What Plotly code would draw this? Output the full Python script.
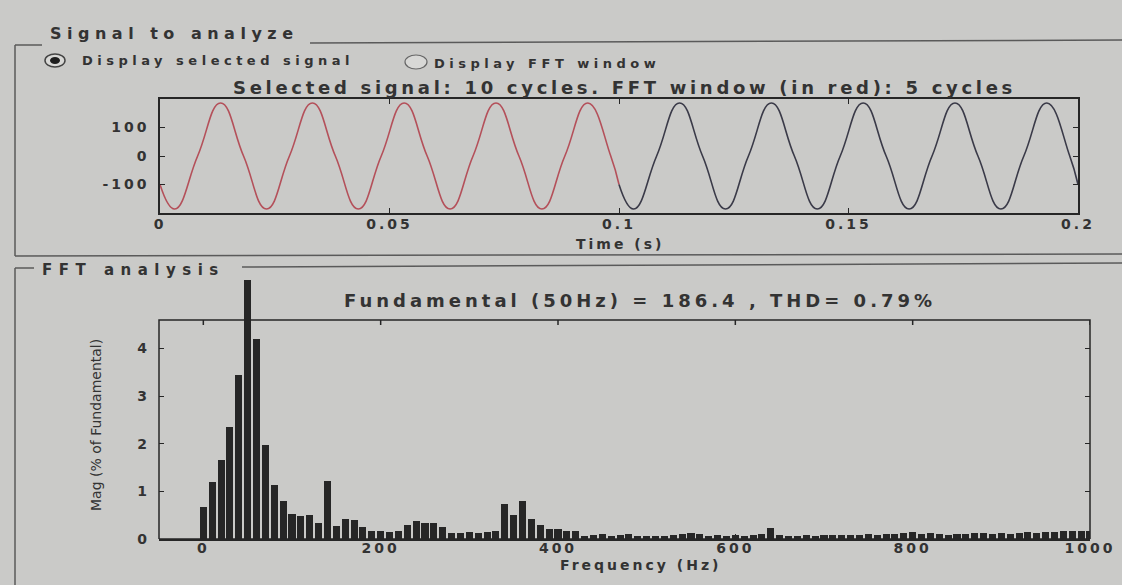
import plotly.graph_objects as go

W, H = 1122, 585

# ---- data ----
sig_red_t = [0, 0.0032, 0.0082, 0.0132, 0.0182, 0.0232, 0.0282, 0.0332, 0.0382, 0.0432,
             0.0482, 0.0532, 0.0582, 0.0632, 0.0682, 0.0732, 0.0782, 0.0832, 0.0882, 0.0932,
             0.0982, 0.1]
sig_red_v = [-100, -186, 0, 186, 0, -186, 0, 186, 0, -186,
             0, 186, 0, -186, 0, 186, 0, -186, 0, 186,
             0, -100]
sig_blk_t = [0.1, 0.1032, 0.1082, 0.1132, 0.1182, 0.1232, 0.1282, 0.1332, 0.1382, 0.1432,
             0.1482, 0.1532, 0.1582, 0.1632, 0.1682, 0.1732, 0.1782, 0.1832, 0.1882, 0.1932,
             0.1982, 0.2]
sig_blk_v = [-100, -186, 0, 186, 0, -186, 0, 186, 0, -186,
             0, 186, 0, -186, 0, 186, 0, -186, 0, 186,
             0, -100]

freqs = list(range(0, 1001, 10))
mags = [0.66, 1.18, 1.65, 2.34, 3.44, 5.44, 4.20, 1.97, 1.12, 0.78,
        0.51, 0.47, 0.49, 0.33, 1.22, 0.26, 0.42, 0.40, 0.24, 0.17,
        0.16, 0.13, 0.15, 0.28, 0.36, 0.33, 0.32, 0.25, 0.12, 0.12,
        0.13, 0.12, 0.14, 0.15, 0.72, 0.50, 0.78, 0.42, 0.28, 0.20,
        0.20, 0.17, 0.15, 0.06, 0.08, 0.10, 0.06, 0.08, 0.10, 0.05,
        0.06, 0.05, 0.06, 0.08, 0.10, 0.12, 0.10, 0.06, 0.08, 0.05,
        0.07, 0.05, 0.08, 0.10, 0.22, 0.08, 0.06, 0.06, 0.07, 0.06,
        0.07, 0.08, 0.07, 0.08, 0.07, 0.09, 0.08, 0.10, 0.09, 0.11,
        0.13, 0.10, 0.12, 0.10, 0.08, 0.09, 0.10, 0.11, 0.12, 0.10,
        0.11, 0.10, 0.12, 0.14, 0.12, 0.13, 0.14, 0.15, 0.15, 0.16,
        0.17]

t_ticks = [0, 0.05, 0.1, 0.15, 0.2]
t_ticktext = ["0", "0.05", "0.1", "0.15", "0.2"]
v_ticks = [-100, 0, 100]
v_ticktext = ["-100", "0", "100"]
f_ticks = [0, 200, 400, 600, 800, 1000]
m_ticks = [0, 1, 2, 3, 4]
m_top = 4.6          # upper limit of the FFT axes box
m_overflow = 5.6     # room for the bar that pokes above the box

title_sig = "Selected signal: 10 cycles. FFT window (in red): 5 cycles"
title_fft = "Fundamental (50Hz) = 186.4 , THD= 0.79%"

# ---- styling ----
FONT = "DejaVu Sans"
TXT = "#333333"
AX = "#262626"
BG = "#cacac8"


def fx(x):
    return x / W


def fy(y):
    return 1 - y / H


def sp(s, ls):
    return '<span style="letter-spacing:%spx">%s</span>' % (ls, s)


fig = go.Figure()
fig.add_trace(go.Scatter(x=sig_red_t, y=sig_red_v, mode="lines",
                         line=dict(color="#b4505a", width=1.6, shape="spline", smoothing=1.3),
                         xaxis="x", yaxis="y", showlegend=False, hoverinfo="skip"))
fig.add_trace(go.Scatter(x=sig_blk_t, y=sig_blk_v, mode="lines",
                         line=dict(color="#3a3a48", width=1.6, shape="spline", smoothing=1.3),
                         xaxis="x", yaxis="y", showlegend=False, hoverinfo="skip"))
fig.add_trace(go.Bar(x=freqs, y=mags, width=8, marker=dict(color="#262626", line=dict(width=0)),
                     xaxis="x2", yaxis="y2", showlegend=False))

tickfont = dict(family=FONT, size=14, color=TXT, weight="bold")
axis_common = dict(linecolor=AX, linewidth=1.5, ticks="inside", ticklen=5, tickcolor=AX,
                   showgrid=False, zeroline=False, tickfont=tickfont, automargin=False)

px_per_unit = (539 - 320) / m_top
fig.update_layout(
    template="none",
    width=W, height=H, autosize=False,
    margin=dict(l=0, r=0, t=0, b=0, pad=0, autoexpand=False),
    paper_bgcolor=BG, plot_bgcolor=BG,
    bargap=0,
    xaxis=dict(domain=[fx(160), fx(1078)], range=[0, 0.2], tickvals=t_ticks,
               ticktext=[sp(s, 3) for s in t_ticktext], anchor="y", ticklabelstandoff=-3,
               showline=True, mirror="allticks", **axis_common),
    yaxis=dict(domain=[fy(213), fy(99)], range=[-200, 200], tickvals=v_ticks,
               ticktext=[sp(s, 3) for s in v_ticktext], anchor="x", ticklabelstandoff=6,
               showline=True, mirror="allticks", **axis_common),
    xaxis2=dict(domain=[fx(159), fx(1090)], range=[-50, 1000], tickvals=f_ticks,
                ticktext=[sp(str(v), 3) for v in f_ticks], anchor="y2", ticklabelstandoff=-5,
                showline=True, mirror=False, **axis_common),
    yaxis2=dict(domain=[fy(539), fy(539 - m_overflow * px_per_unit)], range=[0, m_overflow],
                tickvals=m_ticks, ticktext=[sp(str(v), 3) for v in m_ticks], anchor="x2",
                ticklabelstandoff=8, showline=False, mirror="ticks", **axis_common),
)

ann = []


def text(x, y, s, size, anchor="center", angle=0, ls=0, weight="bold"):
    ann.append(dict(x=fx(x), y=fy(y), xref="paper", yref="paper",
                    text=sp(s, ls) if ls else s, showarrow=False,
                    xanchor=anchor, yanchor="middle", textangle=angle,
                    font=dict(family=FONT, size=size, color=TXT, weight=weight)))


text(48, 33, "Signal to analyze", 16, "left", ls=5.5)
text(80, 61, "Display selected signal", 13, "left", ls=4.5)
text(432, 63, "Display FFT window", 13, "left", ls=4.5)
text(624, 87, title_sig, 18, ls=3.7)
text(620, 244, "Time (s)", 14, ls=3)
text(40, 270, "FFT analysis", 15, "left", ls=6.5)
text(640, 300, title_fft, 18, ls=4)
text(640, 565, "Frequency (Hz)", 14, ls=3)
text(96, 425, "Mag (% of Fundamental)", 14, "center", -90, weight="normal")
fig.update_layout(annotations=ann)

LC = "#5a5a5a"
shapes = []


def line(x0, y0, x1, y1, w=1.5, c=LC):
    shapes.append(dict(type="line", xref="paper", yref="paper", x0=fx(x0), y0=fy(y0),
                       x1=fx(x1), y1=fy(y1), line=dict(color=c, width=w)))


# panel 1
line(15, 45, 42, 45)
line(310, 43, 1122, 40)
line(15, 45, 15, 256)
line(15, 256, 1122, 254)
# panel 2
line(15, 268, 34, 268)
line(242, 267, 1122, 263)
line(15, 268, 15, 585)

# FFT axes box (bars may poke above it)
shapes.append(dict(type="rect", xref="x2 domain", yref="y2", x0=0, x1=1, y0=0, y1=m_top,
                   line=dict(color=AX, width=1.5), layer="above"))
for f in f_ticks:
    shapes.append(dict(type="line", xref="x2", yref="y2", x0=f, x1=f, y0=m_top,
                       y1=m_top - 5 / px_per_unit, line=dict(color=AX, width=1.5)))

# radio buttons
shapes.append(dict(type="circle", xref="paper", yref="paper", x0=fx(45), x1=fx(65),
                   y0=fy(54), y1=fy(67), line=dict(color="#444", width=1.5), fillcolor="#d8d8d6"))
shapes.append(dict(type="circle", xref="paper", yref="paper", x0=fx(50), x1=fx(60),
                   y0=fy(57), y1=fy(64), line=dict(width=0), fillcolor="#1e1e1e"))
shapes.append(dict(type="circle", xref="paper", yref="paper", x0=fx(405), x1=fx(427),
                   y0=fy(55), y1=fy(69), line=dict(color="#666", width=1.2), fillcolor="#d8d8d6"))
fig.update_layout(shapes=shapes)

fig.write_html("out.html")
